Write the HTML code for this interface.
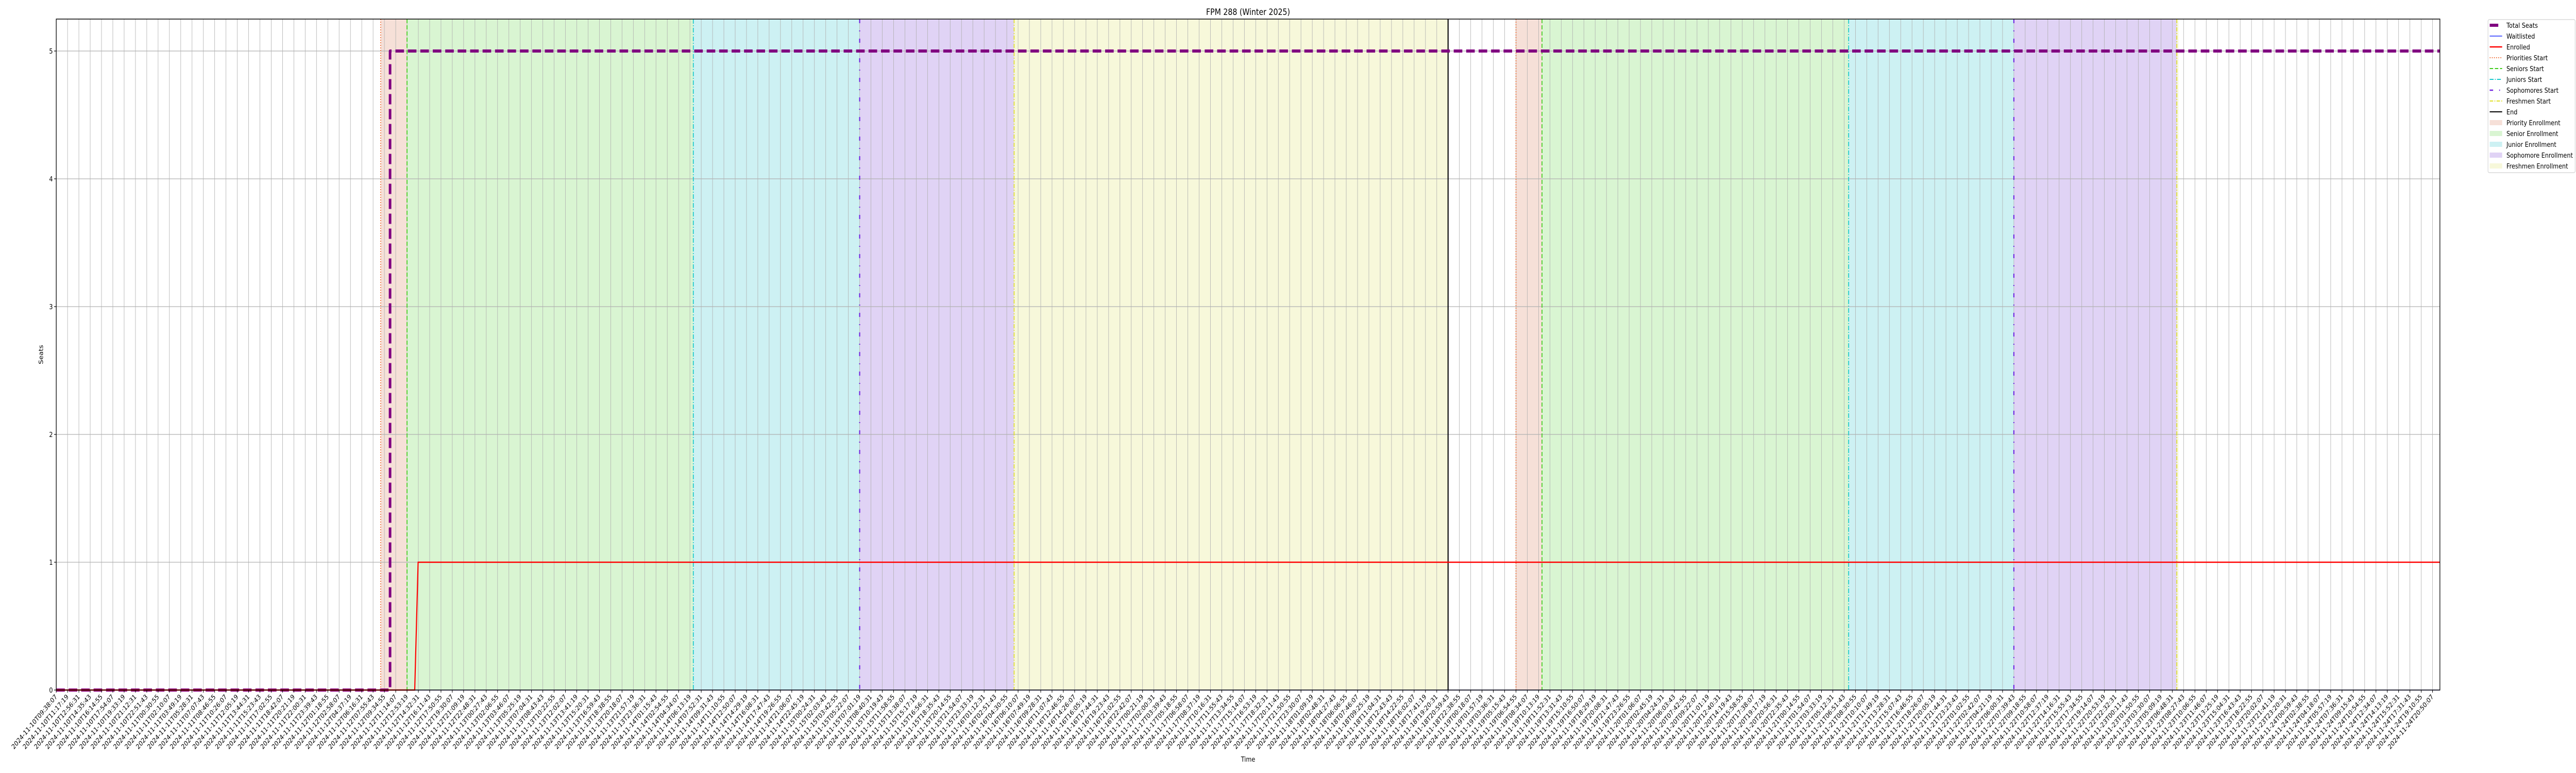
<!DOCTYPE html>
<html><head><meta charset="utf-8">
<style>
html,body{margin:0;padding:0;background:#fff;overflow:hidden;}
svg{display:block;font-family:"DejaVu Sans","Liberation Sans",sans-serif;width:100vw;height:100vh;}
</style></head>
<body>
<svg id="chart" viewBox="0 0 6000 1500" preserveAspectRatio="none" xmlns="http://www.w3.org/2000/svg">
<text x="2907" y="29" font-size="17" text-anchor="middle">FPM 288 (Winter 2025)</text>
<text x="2907" y="1478" font-size="13.5" text-anchor="middle">Time</text>
<text x="0" y="0" font-size="13.5" text-anchor="middle" transform="translate(100,688) rotate(-90)">Seats</text>
<g id="spans"></g><g id="grid"></g><g id="events"></g><g id="series"></g><g id="axes"></g><g id="legend"></g>
</svg>
<script>
// ---- data (x in tick-index units) ----
const tickStart = "2024-11-10T09:38:07";
const tickCount = 211;
const tickStepSeconds = 5952;
const yTicks = [0, 1, 2, 3, 4, 5];
const seatsX = [0, 29.5, 29.5, 210.65];
const seatsY = [0, 0, 5, 5];
const enrolledX = [0, 31.68, 31.98, 210.65];
const enrolledY = [0, 0, 1, 1];
const waitlistX = [0, 210.65];
const waitlistY = [0, 0];
const priorityStarts = [28.67, 129.0];
const seniorStarts = [31.0, 131.3];
const juniorStarts = [56.3, 158.4];
const sophomoreStarts = [71.0, 173.0];
const freshmenStarts = [84.65, 187.4];
const endTimes = [123.0];
const spanEnds2 = [123.0, 187.4];

const L = 131, R = 5683, T = 37, B = 1339, XMAX = 210.65, YMAX = 5.25;
const xs = v => L + (R - L) * v / XMAX;
const ys = v => B - (B - T) * v / YMAX;
const NS = "http://www.w3.org/2000/svg";
function mk(tag, attrs, parent) {
  const e = document.createElementNS(NS, tag);
  for (const k in attrs) e.setAttribute(k, attrs[k]);
  parent.appendChild(e); return e;
}
const gSp = document.getElementById('spans'), gGr = document.getElementById('grid'),
      gEv = document.getElementById('events'), gSe = document.getElementById('series'),
      gAx = document.getElementById('axes'), gLg = document.getElementById('legend');

const spanCols = {priority:"#f6e0d8", senior:"#d9f5d2", junior:"#cdf1f3", sophomore:"#e0d3f5", freshmen:"#f7f8da"};
for (let i = 0; i < 2; i++) {
  const segs = [
    ["priority", priorityStarts[i], seniorStarts[i]],
    ["senior", seniorStarts[i], juniorStarts[i]],
    ["junior", juniorStarts[i], sophomoreStarts[i]],
    ["sophomore", sophomoreStarts[i], freshmenStarts[i]],
    ["freshmen", freshmenStarts[i], i === 0 ? spanEnds2[0] : spanEnds2[1] + 0.15]
  ];
  segs.forEach(s => {
    const r = mk('rect', {x: xs(s[1]), y: T, width: Math.max(0, xs(s[2]) - xs(s[1])), height: B - T, fill: spanCols[s[0]]}, gSp);
    
    
  });
}

const start = new Date(tickStart + "Z").getTime();
const pad = n => String(n).padStart(2, '0');
for (let i = 0; i < tickCount; i++) {
  const x = xs(i);
  const gl = mk('line', {x1: x, x2: x, y1: T, y2: B, stroke: "#b0b0b0", "stroke-width": 1}, gGr);
  
  
  const tk = mk('line', {x1: x, x2: x, y1: B, y2: B + 5, stroke: "#000", "stroke-width": 1.2}, gAx);
  
  
  const d = new Date(start + i * tickStepSeconds * 1000);
  const lab = d.getUTCFullYear() + "-" + pad(d.getUTCMonth() + 1) + "-" + pad(d.getUTCDate()) + "T" + pad(d.getUTCHours()) + ":" + pad(d.getUTCMinutes()) + ":" + pad(d.getUTCSeconds());
  const t = mk('text', {x: 0, y: 0, "font-size": 13.2, "text-anchor": "end", transform: `translate(${x + 3},${B + 14}) rotate(-45)`}, gAx);
  t.textContent = lab;
  
  
}
yTicks.forEach(v => {
  const y = ys(v);
  const gl = mk('line', {x1: L, x2: R, y1: y, y2: y, stroke: "#b0b0b0", "stroke-width": 1.3}, gGr);
  
  
  const tk = mk('line', {x1: L - 5, x2: L, y1: y, y2: y, stroke: "#000", "stroke-width": 1.2}, gAx);
  
  
  const t = mk('text', {x: L - 8, y: y + 5, "font-size": 13.5, "text-anchor": "end"}, gAx);
  t.textContent = v;
  
  
});

const evStyles = [
  [priorityStarts, "#f0703a", "2,3", 2, "priorities-start-line"],
  [seniorStarts, "#3fcc1a", "8,4", 2, "seniors-start-line"],
  [juniorStarts, "#18c8cc", "9,3,2,3", 2, "juniors-start-line"],
  [sophomoreStarts, "#7022e0", "8,14,2,14", 2.5, "sophomores-start-line"],
  [freshmenStarts, "#e0e028", "8,3,2,3", 2, "freshmen-start-line"],
  [endTimes, "#000000", "", 2.5, "end-line"]
];
evStyles.forEach(s => s[0].forEach(v => {
  const a = {x1: xs(v), x2: xs(v), y1: T, y2: B, stroke: s[1], "stroke-width": s[3]};
  if (s[2]) a["stroke-dasharray"] = s[2];
  const l = mk('line', a, gEv);
  
  
}));

function poly(X, Y, attrs, name) {
  const pts = X.map((x, i) => xs(x) + "," + ys(Y[i])).join(" ");
  const p = mk('polyline', Object.assign({points: pts, fill: "none"}, attrs), gSe);
  
  
}
poly(waitlistX, waitlistY, {stroke: "#2030ff", "stroke-width": 1.5, opacity: 0.6}, 'waitlisted-line');
poly(seatsX, seatsY, {stroke: "#800080", "stroke-width": 6, "stroke-dasharray": "20,9", "stroke-linejoin": "round"}, 'total-seats-line');
poly(enrolledX, enrolledY, {stroke: "#ff0000", "stroke-width": 2.6}, 'enrolled-line');

const fr = mk('rect', {x: L, y: T, width: R - L, height: B - T, fill: "none", stroke: "#000", "stroke-width": 1.5}, gAx);



const lb = mk('rect', {x: 5795, y: 38, width: 203, height: 297, rx: 3, fill: "#fff", stroke: "#d0d0d0", "stroke-width": 1.2}, gLg);


const legItems = [
  ["Total Seats", "line", "#800080", 6, ""],
  ["Waitlisted", "line", "#2030ff", 1.5, ""],
  ["Enrolled", "line", "#ff0000", 2.6, ""],
  ["Priorities Start", "line", "#f0703a", 2, "2,3"],
  ["Seniors Start", "line", "#3fcc1a", 2, "8,4"],
  ["Juniors Start", "line", "#18c8cc", 2, "9,3,2,3"],
  ["Sophomores Start", "line", "#7022e0", 2.5, "8,14,2,14"],
  ["Freshmen Start", "line", "#e0e028", 2, "8,3,2,3"],
  ["End", "line", "#000000", 2, ""],
  ["Priority Enrollment", "patch", "#f6e0d8"],
  ["Senior Enrollment", "patch", "#d9f5d2"],
  ["Junior Enrollment", "patch", "#cdf1f3"],
  ["Sophomore Enrollment", "patch", "#e0d3f5"],
  ["Freshmen Enrollment", "patch", "#f7f8da"]
];
legItems.forEach((it, i) => {
  const cy = 49 + i * 21;
  const g = mk('g', {}, gLg);
  
  
  if (it[1] === "line") {
    const a = {x1: 5799, x2: it[0] === "Total Seats" ? 5819 : 5828, y1: cy, y2: cy, stroke: it[2], "stroke-width": it[3]};
    if (it[4]) a["stroke-dasharray"] = it[4];
    mk('line', a, g);
  } else {
    mk('rect', {x: 5799, y: cy - 5, width: 29, height: 10, fill: it[2]}, g);
  }
  const t = mk('text', {x: 5838, y: cy + 5, "font-size": 13.5}, g);
  t.textContent = it[0];
});
</script>
</body></html>
